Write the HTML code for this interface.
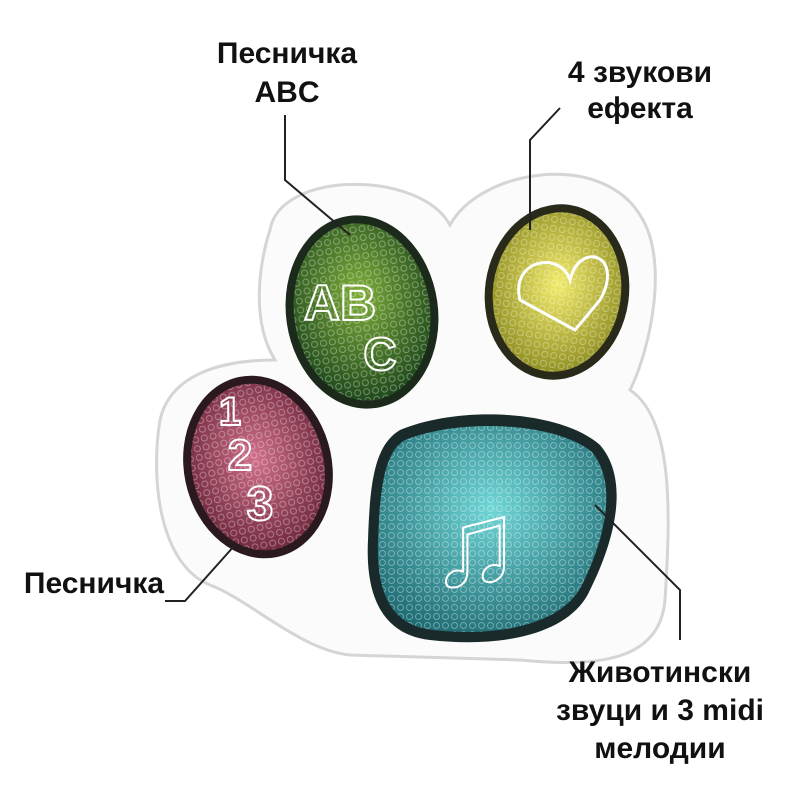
<!DOCTYPE html>
<html><head><meta charset="utf-8"><style>
html,body{margin:0;padding:0;background:#fff;}
svg{display:block}
text{font-family:"Liberation Sans",sans-serif;font-weight:bold;font-size:30px;fill:#111;text-anchor:middle}
</style></head><body>
<svg width="800" height="800" viewBox="0 0 800 800" xmlns="http://www.w3.org/2000/svg">
<defs>
<pattern id="dots" width="9" height="9" patternUnits="userSpaceOnUse">
<circle cx="4.5" cy="4.5" r="3" fill="none" stroke="rgba(255,255,255,0.35)" stroke-width="1"/>
</pattern>
<radialGradient id="g" cx="50%" cy="40%" r="60%"><stop offset="0" stop-color="#7fae3a"/><stop offset="1" stop-color="#1f4a1c"/></radialGradient>
<radialGradient id="y" cx="50%" cy="45%" r="60%"><stop offset="0" stop-color="#f2ea6a"/><stop offset="1" stop-color="#8a8a1e"/></radialGradient>
<radialGradient id="p" cx="50%" cy="45%" r="60%"><stop offset="0" stop-color="#d0708a"/><stop offset="1" stop-color="#6a2438"/></radialGradient>
<radialGradient id="t" cx="50%" cy="40%" r="65%"><stop offset="0" stop-color="#6fd6d6"/><stop offset="1" stop-color="#1f6c74"/></radialGradient>
</defs>
<path d="M270 230 C280 170 420 170 450 225 C480 170 600 150 640 215 C670 260 650 350 630 390 C675 420 670 520 665 600 C660 660 600 668 520 660 L350 655 C300 650 250 600 210 585 C160 565 150 480 160 420 C170 375 220 360 275 360 C250 320 260 260 270 230 Z" fill="#fbfbfb" stroke="#d5d5d5" stroke-width="3"/>
<ellipse cx="362" cy="312" rx="76" ry="97" fill="#1c2a1c" transform="rotate(-8 362 312)"/>
<ellipse cx="362" cy="312" rx="68" ry="89" fill="url(#g)" transform="rotate(-8 362 312)"/>
<ellipse cx="362" cy="312" rx="68" ry="89" fill="url(#dots)" transform="rotate(-8 362 312)"/>
<ellipse cx="557" cy="292" rx="72" ry="88" fill="#2a2a1a" transform="rotate(8 557 292)"/>
<ellipse cx="557" cy="292" rx="64" ry="80" fill="url(#y)" transform="rotate(8 557 292)"/>
<ellipse cx="557" cy="292" rx="64" ry="80" fill="url(#dots)" transform="rotate(8 557 292)"/>
<ellipse cx="258" cy="467" rx="74" ry="92" fill="#2a1a20" transform="rotate(-12 258 467)"/>
<ellipse cx="258" cy="467" rx="66" ry="84" fill="url(#p)" transform="rotate(-12 258 467)"/>
<ellipse cx="258" cy="467" rx="66" ry="84" fill="url(#dots)" transform="rotate(-12 258 467)"/>
<path d="M400 430 C460 405 560 410 600 445 C630 480 615 540 590 590 C570 635 500 648 430 640 C385 635 365 600 368 540 C370 480 375 445 400 430 Z" fill="#1a2a2a"/>
<path d="M405 440 C460 418 555 422 592 452 C618 484 605 538 582 585 C562 625 498 637 432 630 C392 625 376 595 378 540 C380 485 385 452 405 440 Z" fill="url(#t)"/>
<path d="M405 440 C460 418 555 422 592 452 C618 484 605 538 582 585 C562 625 498 637 432 630 C392 625 376 595 378 540 C380 485 385 452 405 440 Z" fill="url(#dots)"/>
<g fill="none" stroke="#fff" stroke-width="3">
<text x="340" y="320" style="font-size:50px;fill:none;stroke:#fff;stroke-width:2">AB</text>
<text x="380" y="370" style="font-size:46px;fill:none;stroke:#fff;stroke-width:2">C</text>
<text x="260" y="520" style="font-size:48px;fill:none;stroke:#fff;stroke-width:2">3</text>
<text x="240" y="470" style="font-size:44px;fill:none;stroke:#fff;stroke-width:2">2</text>
<text x="230" y="425" style="font-size:40px;fill:none;stroke:#fff;stroke-width:2">1</text>
<text x="475" y="585" style="font-size:120px;fill:none;stroke:#fff;stroke-width:2">♫</text>
<path d="M520 300 C510 260 560 250 570 280 C580 240 625 255 600 300 L575 330 Z"/>
</g>
<g fill="none" stroke="#222" stroke-width="2">
<polyline points="285,115 285,180 350,235"/>
<polyline points="560,108 530,140 530,230"/>
<polyline points="165,601 185,601 235,545"/>
<polyline points="595,505 680,590 680,640"/>
</g>
<text x="287" y="63">Песничка</text>
<text x="287" y="102">ABC</text>
<text x="640" y="82">4 звукови</text>
<text x="640" y="118">ефекта</text>
<text x="94" y="593">Песничка</text>
<text x="660" y="682">Животински</text>
<text x="660" y="720">звуци и 3 midi</text>
<text x="660" y="758">мелодии</text>
</svg>
</body></html>
